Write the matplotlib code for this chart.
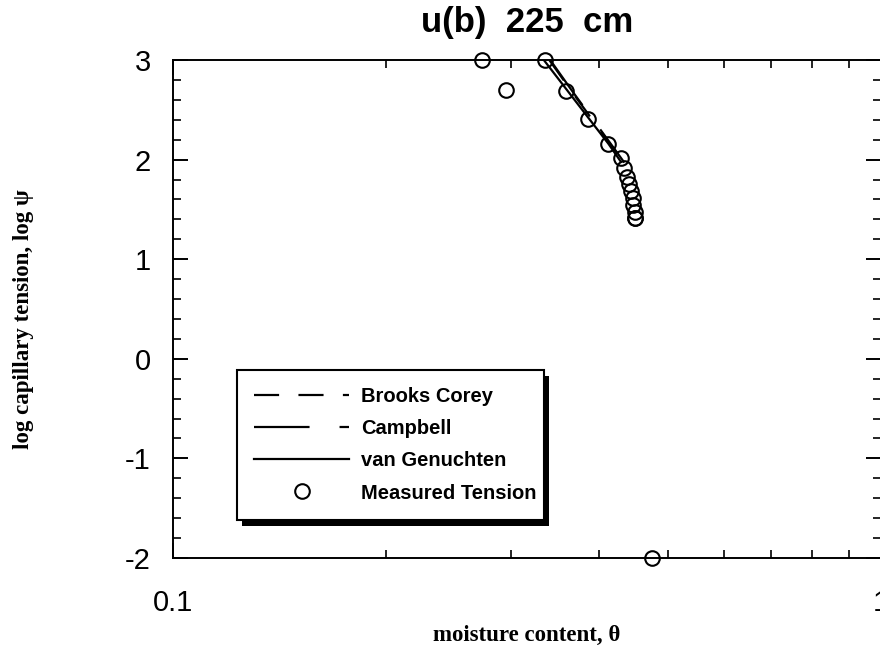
import matplotlib
matplotlib.use("Agg")
import matplotlib.pyplot as plt
from matplotlib.ticker import FixedLocator, NullFormatter, FixedFormatter
from matplotlib.patches import Rectangle
from matplotlib.transforms import IdentityTransform
import numpy as np

plt.rcParams['axes.unicode_minus'] = False

# Measured tension (moisture content vs log capillary tension)
measured_theta = [0.2735, 0.295, 0.335, 0.359, 0.386, 0.411, 0.429, 0.434,
                  0.438, 0.441, 0.444, 0.446, 0.447, 0.449, 0.449, 0.450, 0.475]
measured_logpsi = [3.00, 2.70, 3.00, 2.69, 2.41, 2.16, 2.02, 1.92,
                   1.83, 1.76, 1.68, 1.61, 1.54, 1.47, 1.41, 1.41, -2.00]

# Fitted retention curves
brooks_theta = [0.340, 0.366, 0.393, 0.418, 0.433]
brooks_logpsi = [3.00, 2.68, 2.38, 2.12, 1.97]
campbell_theta = [0.341, 0.367, 0.394, 0.419, 0.434]
campbell_logpsi = [3.00, 2.68, 2.38, 2.12, 1.97]
vg_theta = [0.334, 0.360, 0.387, 0.412, 0.429]
vg_logpsi = [3.00, 2.70, 2.41, 2.16, 1.98]

y_ticks = [-2, -1, 0, 1, 2, 3]
x_tick_labels = ["0.1", "1"]

W, H = 880, 654
fig = plt.figure(figsize=(W / 100, H / 100), dpi=100)
ax = fig.add_axes([173 / W, 96 / H, 708 / W, 498 / H])
ax.set_xscale('log')
ax.set_xlim(0.1, 1.0)
ax.set_ylim(-2, 3)

ax.plot(brooks_theta, brooks_logpsi, color='black', lw=1.6,
        dashes=(11.3, 8.7), label='Brooks Corey', zorder=3)
ax.plot(campbell_theta, campbell_logpsi, color='black', lw=1.6,
        dashes=(25, 13.5), label='Campbell', zorder=3)
ax.plot(vg_theta, vg_logpsi, color='black', lw=1.6,
        label='van Genuchten', zorder=3)
ax.plot(measured_theta, measured_logpsi, linestyle='none', marker='o',
        markersize=10.5, markerfacecolor='none', markeredgecolor='black',
        markeredgewidth=1.5, label='Measured Tension', clip_on=False, zorder=4)

# Ticks
ax.yaxis.set_major_locator(FixedLocator(y_ticks))
ax.yaxis.set_minor_locator(FixedLocator(np.arange(-2, 3.01, 0.2)))
ax.xaxis.set_major_locator(FixedLocator([0.1, 1.0]))
ax.xaxis.set_major_formatter(FixedFormatter(x_tick_labels))
ax.xaxis.set_minor_locator(FixedLocator([0.2, 0.3, 0.4, 0.5, 0.6, 0.7, 0.8, 0.9]))
ax.xaxis.set_minor_formatter(NullFormatter())

ax.tick_params(which='both', direction='in', top=True, right=True, color='black')
ax.tick_params(which='major', length=11, width=1.4)
ax.tick_params(which='minor', length=5.5, width=1.2)
ax.tick_params(axis='y', which='major', labelsize=21, pad=16)
ax.tick_params(axis='x', which='major', labelsize=21, pad=22)
for lbl in ax.get_xticklabels() + ax.get_yticklabels():
    lbl.set_fontfamily('Liberation Sans')

for sp in ax.spines.values():
    sp.set_linewidth(1.4)

ax.set_title('u(b)  225  cm', fontsize=25, fontweight='bold',
             fontfamily='Liberation Sans', pad=20)
ax.set_xlabel('moisture content, θ', fontsize=16.5, fontfamily='Liberation Serif',
              fontweight='bold')
ax.xaxis.set_label_coords(0.5, -0.135)
ax.set_ylabel('log capillary tension, log ψ', fontsize=16.5,
              fontfamily='Liberation Serif', fontweight='bold')
ax.yaxis.set_label_coords(-0.197, 0.48)

leg = ax.legend(loc='lower left', bbox_to_anchor=(0.0905, 0.077, 0.433, 0.3),
                mode='expand', frameon=True, fancybox=False, numpoints=1,
                handlelength=4.7, handletextpad=0.6, labelspacing=0.66,
                borderpad=0.85, borderaxespad=0, framealpha=1.0,
                prop={'family': 'Liberation Sans', 'size': 14.5, 'weight': 'bold'})
leg.get_frame().set_edgecolor('black')
leg.get_frame().set_facecolor('white')
leg.get_frame().set_linewidth(1.5)
leg.set_zorder(6)

# Solid drop shadow along the bottom and right of the legend box
fig.canvas.draw()
bb = leg.get_frame().get_window_extent()
shadow = Rectangle((bb.x0 + 5, bb.y0 - 6), bb.width, bb.height,
                   transform=IdentityTransform(), facecolor='black',
                   edgecolor='none', zorder=5.5)
ax.add_artist(shadow)

fig.savefig('out.png', dpi=100)
